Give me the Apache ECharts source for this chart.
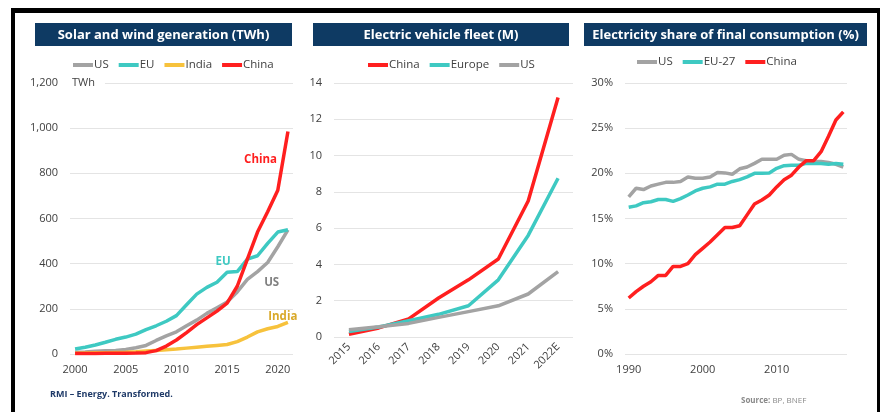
<!DOCTYPE html>
<html>
<head>
<meta charset="utf-8">
<script src="https://cdn.jsdelivr.net/npm/echarts@6/dist/echarts.min.js"></script>
<style>
  body { margin: 0; background: #fff; }
  #wrap { position: relative; width: 880px; height: 412px; }
  #chart { width: 880px; height: 412px; }
  #frame {
    position: absolute; left: 11px; top: 8px; width: 869px; height: 404px;
    box-sizing: border-box; pointer-events: none;
    border-top: 5px solid #000; border-left: 4px solid #000; border-right: 3px solid #000;
  }
</style>
</head>
<body>
<div id="wrap">
  <div id="chart"></div>
  <div id="frame"></div>
</div>
<script>
// solar + wind generation, TWh
const genYears = ['2000', '2001', '2002', '2003', '2004', '2005', '2006', '2007', '2008', '2009', '2010',
  '2011', '2012', '2013', '2014', '2015', '2016', '2017', '2018', '2019', '2020', '2021']
const genUS = [8, 9, 12, 14, 16, 20, 28, 38, 60, 80, 98, 125, 150, 180, 205, 230, 275, 330, 365, 405, 475, 550]
const genEU = [22, 30, 40, 52, 65, 75, 88, 108, 125, 145, 170, 218, 265, 295, 318, 362, 365, 420, 435, 490, 540, 550]
const genIndia = [3, 4, 5, 6, 7, 8, 10, 13, 16, 19, 22, 26, 30, 34, 38, 42, 55, 75, 98, 112, 122, 140]
const genChina = [2, 2, 2, 3, 3, 3, 4, 6, 15, 35, 62, 95, 130, 160, 190, 225, 300, 420, 540, 630, 725, 985]

// electric vehicle fleet, millions
const evYears = ['2015', '2016', '2017', '2018', '2019', '2020', '2021', '2022E']
const evChina = [0.15, 0.5, 1.0, 2.15, 3.15, 4.3, 7.5, 13.2]
const evEurope = [0.3, 0.55, 0.9, 1.25, 1.72, 3.15, 5.6, 8.75]
const evUS = [0.4, 0.57, 0.75, 1.08, 1.4, 1.72, 2.37, 3.6]

// electricity share of final consumption, %
const shareYears = ['1990', '1991', '1992', '1993', '1994', '1995', '1996', '1997', '1998', '1999',
  '2000', '2001', '2002', '2003', '2004', '2005', '2006', '2007', '2008', '2009',
  '2010', '2011', '2012', '2013', '2014', '2015', '2016', '2017', '2018', '2019']
const shareUS = [17.4, 18.35, 18.2, 18.6, 18.8, 19.0, 19.0, 19.1, 19.6, 19.45, 19.45, 19.6, 20.1, 20.05, 19.9,
  20.5, 20.7, 21.1, 21.55, 21.55, 21.55, 22.0, 22.1, 21.55, 21.4, 21.3, 21.3, 21.2, 21.0, 20.7]
const shareEU = [16.25, 16.4, 16.75, 16.85, 17.1, 17.1, 16.9, 17.2, 17.6, 18.05, 18.35, 18.5, 18.8, 18.8, 19.1,
  19.3, 19.6, 20.0, 20.0, 20.05, 20.55, 20.85, 20.9, 20.9, 21.1, 21.1, 21.1, 21.0, 21.1, 21.0]
const shareChina = [6.2, 6.9, 7.5, 8.0, 8.7, 8.7, 9.7, 9.7, 10.0, 11.0, 11.7, 12.4, 13.2, 14.0, 14.0,
  14.2, 15.4, 16.6, 17.05, 17.6, 18.5, 19.3, 19.8, 20.7, 21.4, 21.4, 22.4, 24.1, 25.9, 26.8]

const RED = '#ff1f1f'
const TEAL = '#3ec9c2'
const GRAY = '#a3a3a3'
const GOLD = '#f7c23c'
const NAVY = '#0e3a63'
const LABEL = '#404040'
const FONT = '"Open Sans", sans-serif'

const chart = echarts.init(document.getElementById('chart'))

const line = (name, data, color, idx, extra) => Object.assign({
  name, type: 'line', data,
  xAxisIndex: idx, yAxisIndex: idx,
  symbol: 'none', smooth: false,
  lineStyle: { width: 3.5, color },
  itemStyle: { color },
}, extra || {})

// floating text tied to a data point
const tag = (text, color, coord, dx) => ({
  coord, symbol: 'circle', symbolSize: 0,
  label: { show: true, position: 'inside', offset: [dx, 0], formatter: text, color, fontWeight: 'bold', fontSize: 11.5, fontFamily: FONT },
})

const catAxis = (idx, data, extraLabel) => ({
  type: 'category', gridIndex: idx, data, boundaryGap: true,
  axisLine: { show: false }, axisTick: { show: false },
  axisLabel: Object.assign({ color: LABEL, fontSize: 11, fontFamily: FONT, margin: 10 }, extraLabel),
})

const valAxis = (idx, max, interval, fmt, extra) => Object.assign({
  type: 'value', gridIndex: idx, min: 0, max, interval,
  axisLine: { show: false }, axisTick: { show: false },
  axisLabel: { color: LABEL, fontSize: 11, fontFamily: FONT, margin: 12, formatter: fmt },
  splitLine: { lineStyle: { color: '#e4e4e4', width: 1 } },
}, extra || {})

const titleBox = (x, w, text) => ({
  type: 'group', left: x, top: 23,
  children: [
    { type: 'rect', shape: { x: 0, y: 0, width: w, height: 23 }, style: { fill: NAVY } },
    { type: 'text', x: w / 2, y: 12, style: { text, fill: '#fff', font: 'bold 13px ' + FONT, align: 'center', verticalAlign: 'middle' } },
  ],
})

const legendBase = {
  icon: 'rect', itemWidth: 20, itemHeight: 4, itemGap: 10,
  textStyle: { color: LABEL, fontSize: 11.5, fontFamily: FONT, padding: [0, 0, 0, -4] },
}

const option = {
  animation: false,
  textStyle: { fontFamily: FONT },
  grid: [
    { left: 70, right: 587, top: 83, bottom: 58 },
    { left: 334, right: 307, top: 83, bottom: 75 },
    { left: 625, right: 33, top: 83, bottom: 58 },
  ],
  legend: [
    Object.assign({ left: 68, top: 54, data: ['US', 'EU', 'India', 'China'] }, legendBase),
    Object.assign({ left: 363, top: 54, data: ['China', 'Europe', 'US'] }, legendBase),
    Object.assign({ left: 632, top: 51, data: ['US', 'EU-27', 'China'] }, legendBase),
  ],
  xAxis: [
    catAxis(0, genYears, { interval: 4 }),
    catAxis(1, evYears, { interval: 0, rotate: 45, margin: 8 }),
    catAxis(2, shareYears, { interval: 9 }),
  ],
  yAxis: [
    valAxis(0, 1200, 200, v => v.toLocaleString('en-US'), {
      name: 'TWh', nameLocation: 'end', nameGap: 0,
      nameTextStyle: { color: LABEL, fontSize: 11, fontFamily: FONT, align: 'left', verticalAlign: 'middle', backgroundColor: '#fff', padding: [2, 10, 2, 2] },
    }),
    valAxis(1, 14, 2, '{value}'),
    valAxis(2, 30, 5, '{value}%'),
  ],
  series: [
    line('US', genUS, GRAY, 0),
    line('EU', genEU, TEAL, 0),
    line('India', genIndia, GOLD, 0),
    line('China', genChina, RED, 0, {
      markPoint: {
        silent: true,
        data: [
          tag('China', RED, ['2018', 860], 3),
          tag('EU', TEAL, ['2015', 407], -4),
          tag('US', '#7f7f7f', ['2019', 314], 4),
          tag('India', '#d9a92a', ['2020', 164], 5),
        ],
      },
    }),
    line('China', evChina, RED, 1),
    line('Europe', evEurope, TEAL, 1),
    line('US', evUS, GRAY, 1),
    line('US', shareUS, GRAY, 2),
    line('EU-27', shareEU, TEAL, 2),
    line('China', shareChina, RED, 2),
  ],
  graphic: [
    titleBox(35, 257, 'Solar and wind generation (TWh)'),
    titleBox(313, 256, 'Electric vehicle fleet (M)'),
    titleBox(584, 283, 'Electricity share of final consumption (%)'),
    { type: 'text', left: 50, top: 390, style: { text: 'RMI – Energy. Transformed.', fill: '#1f3a68', font: 'bold 9px ' + FONT } },
    {
      type: 'text', left: 741, top: 397,
      style: {
        text: '{b|Source:} BP, BNEF', fill: '#8a8a8a', font: '8px ' + FONT,
        rich: { b: { fontWeight: 'bold', fontSize: 8, fill: '#8a8a8a', fontFamily: FONT } },
      },
    },
  ],
}

chart.setOption(option)
</script>
</body>
</html>
